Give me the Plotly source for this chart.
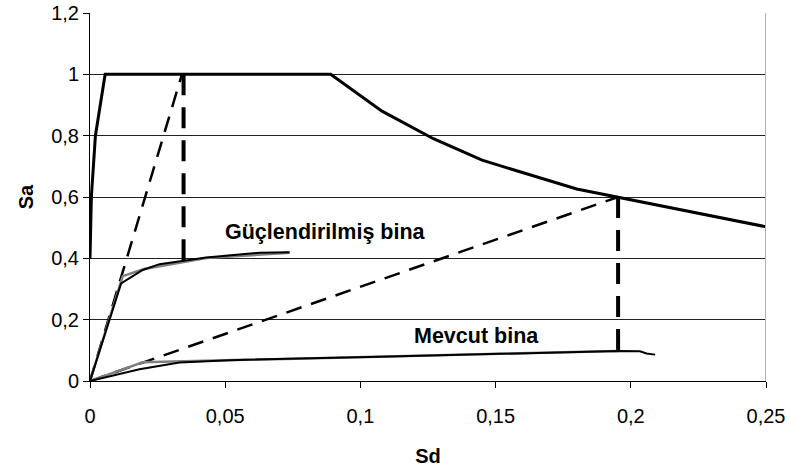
import plotly.graph_objects as go

# Demand spectrum (Sd, Sa)
demand_sd = [0.0, 0.0005, 0.002, 0.0056, 0.089, 0.108, 0.127, 0.145, 0.18, 0.25]
demand_sa = [0.40, 0.60, 0.80, 1.00, 1.00, 0.88, 0.79, 0.72, 0.626, 0.503]

# Retrofitted building capacity curve (Güçlendirilmiş bina)
retro_sd = [0.0, 0.0115, 0.0195, 0.0257, 0.043, 0.0627, 0.0738]
retro_sa = [0.0, 0.318, 0.362, 0.381, 0.403, 0.418, 0.420]
retro_bl_sd = [0.0, 0.0121, 0.02, 0.043, 0.0738]
retro_bl_sa = [0.0, 0.342, 0.365, 0.401, 0.418]

# Existing building capacity curve (Mevcut bina)
exist_sd = [0.0, 0.0183, 0.0331, 0.0516, 0.1071, 0.1953, 0.2034, 0.2058, 0.209]
exist_sa = [0.0, 0.038, 0.060, 0.068, 0.079, 0.098, 0.097, 0.090, 0.086]
exist_bl_sd = [0.0, 0.0195, 0.1953]
exist_bl_sa = [0.0, 0.061, 0.098]

# Dashed construction lines
retro_diag_sd = [0.0, 0.034]
retro_diag_sa = [0.0, 1.0]
retro_vert_sd = [0.0346, 0.0346]
retro_vert_sa = [1.0, 0.39]
exist_diag_sd = [0.0, 0.1953]
exist_diag_sa = [0.0, 0.60]
exist_vert_sd = [0.1953, 0.1953]
exist_vert_sa = [0.60, 0.098]

x_ticks = [0, 0.05, 0.1, 0.15, 0.2, 0.25]
y_ticks = [0, 0.2, 0.4, 0.6, 0.8, 1.0, 1.2]

FONT = "Liberation Sans, Arial, sans-serif"

fig = go.Figure()

def add(x, y, color, width, dash="solid"):
    fig.add_trace(go.Scatter(x=x, y=y, mode="lines", showlegend=False,
                             line=dict(color=color, width=width, dash=dash),
                             hoverinfo="skip"))

add(retro_diag_sd, retro_diag_sa, "black", 2.5, "16px,10px")
add(exist_diag_sd, exist_diag_sa, "black", 2.5, "16px,10px")
add(retro_vert_sd, retro_vert_sa, "black", 4, "21px,12px")
add(exist_vert_sd, exist_vert_sa, "black", 4, "21px,12px")
add(retro_bl_sd, retro_bl_sa, "#7f7f7f", 2.5)
add(exist_bl_sd, exist_bl_sa, "#7f7f7f", 2.5)
add(retro_sd, retro_sa, "black", 2)
add(exist_sd, exist_sa, "black", 2)
add(demand_sd, demand_sa, "black", 3)

# right border of plot area
fig.add_shape(type="line", x0=0.25, x1=0.25, y0=0, y1=1.2, xref="x", yref="y",
              line=dict(color="#b0b0b0", width=2))

fig.add_annotation(x=0.049, y=0.485, text="<b>Güçlendirilmiş bina</b>", showarrow=False,
                   xanchor="left", yanchor="middle", font=dict(family=FONT, size=21.5, color="black"))
fig.add_annotation(x=0.1189, y=0.147, text="<b>Mevcut bina</b>", showarrow=False,
                   xanchor="left", yanchor="middle", font=dict(family=FONT, size=21.5, color="black"))

fig.update_layout(
    width=790, height=471,
    margin=dict(l=90, r=24, t=13, b=90),
    paper_bgcolor="white", plot_bgcolor="white",
    separators=",.",
    font=dict(family=FONT, size=20, color="black"),
    xaxis=dict(range=[0, 0.25], tickvals=x_ticks, showgrid=False, zeroline=False,
               showline=True, linecolor="black", linewidth=1, automargin=False,
               ticks="outside", ticklen=6, tickcolor="black", ticklabelstandoff=11,
               title=dict(text="<b>Sd</b>", font=dict(size=20), standoff=22)),
    yaxis=dict(range=[0, 1.2], tickvals=y_ticks, showgrid=True, gridcolor="#222",
               gridwidth=1, zeroline=False, automargin=False,
               showline=True, linecolor="black", linewidth=1,
               ticks="outside", ticklen=6, tickcolor="black",
               title=dict(text="<b>Sa</b>", font=dict(size=20), standoff=12)),
)

fig.write_html("out.html")
